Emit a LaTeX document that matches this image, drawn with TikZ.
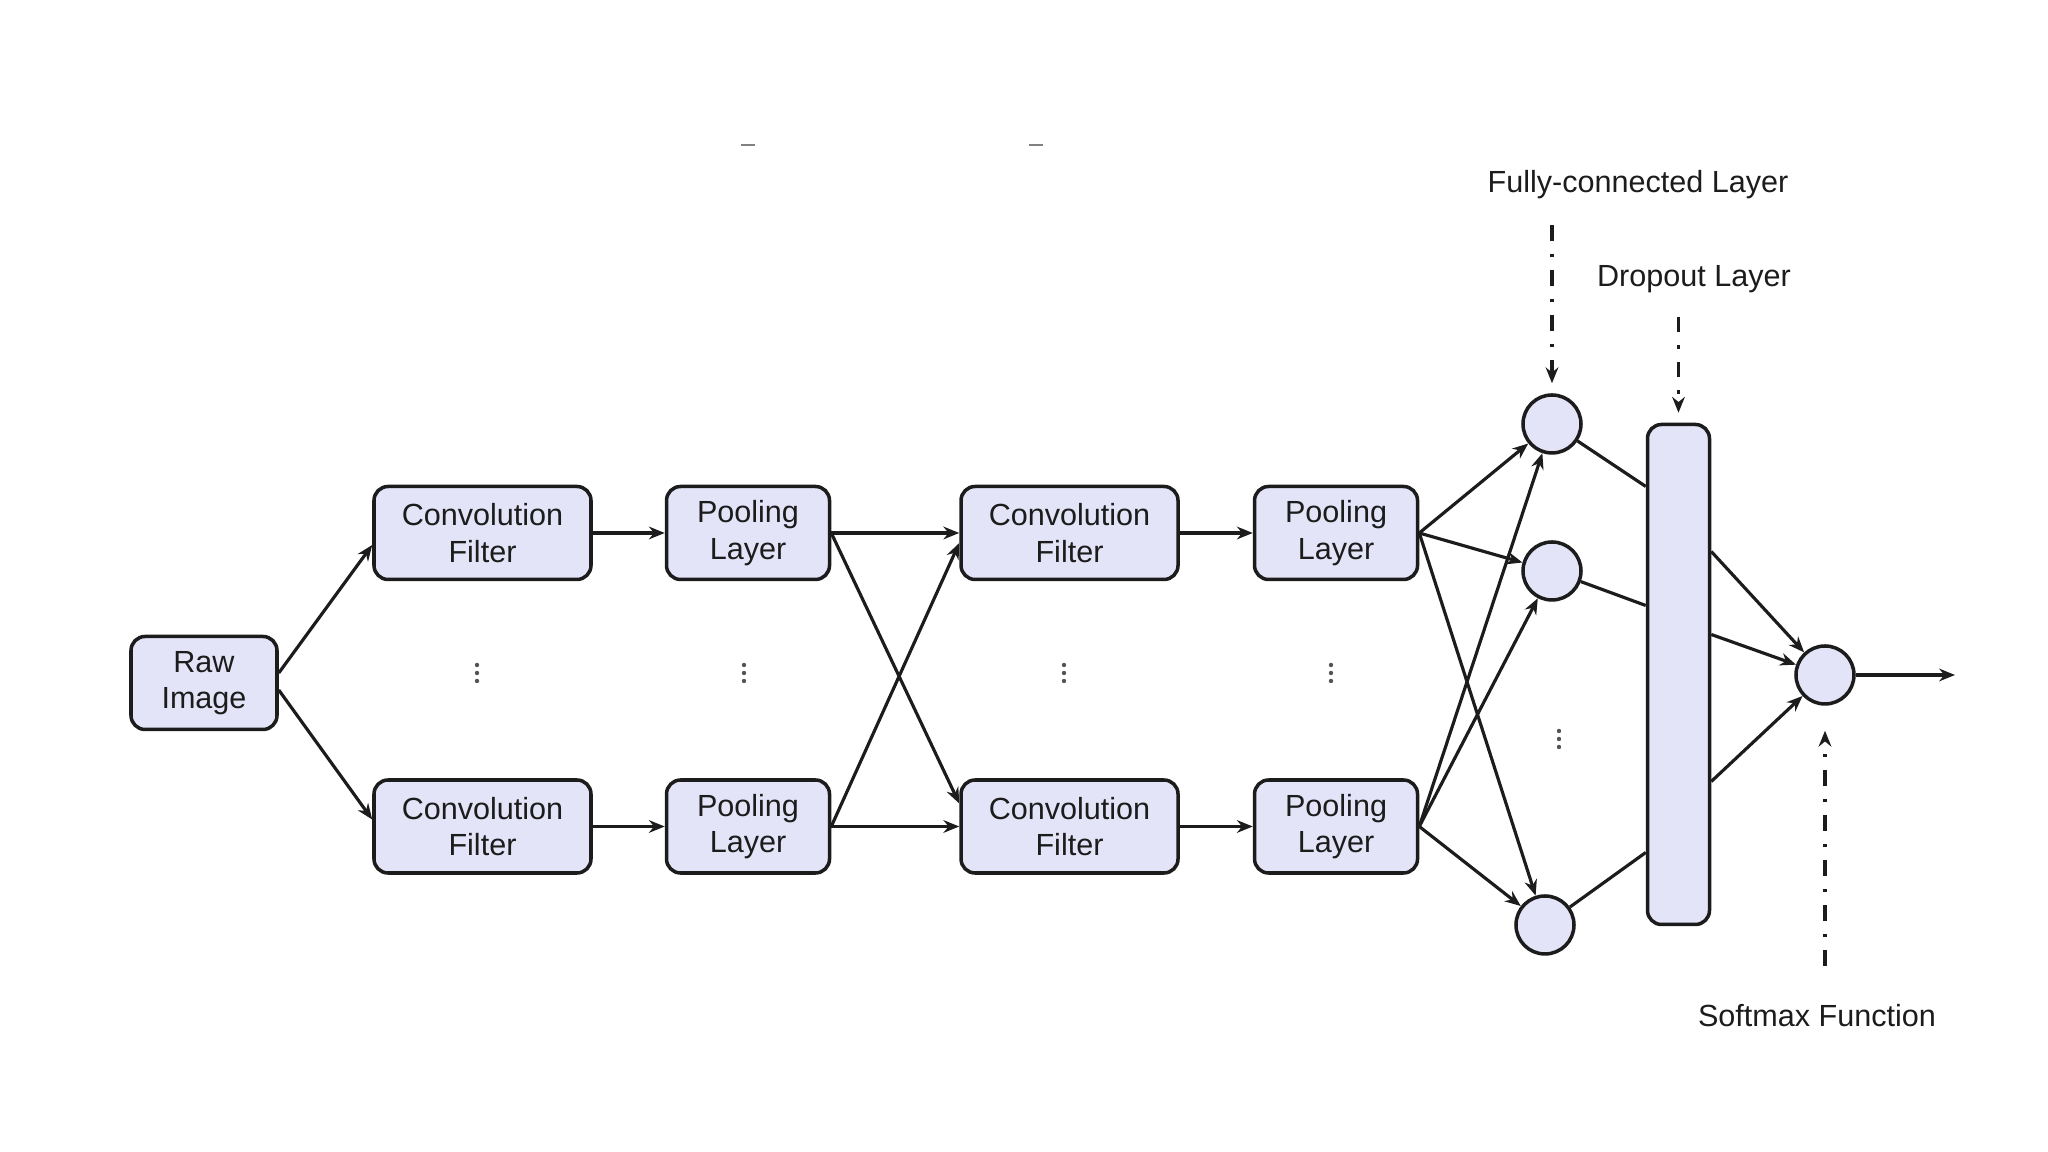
\documentclass[tikz,border=0pt]{standalone}
\usepackage{fontspec}
\setmainfont{Liberation Sans}
\usepackage{xcolor}
\definecolor{layerfill}{HTML}{E4E4F8}
\definecolor{ink}{HTML}{1C1C1C}
\usetikzlibrary{positioning, arrows.meta}

\tikzset{
    vdotsmark/.pic={
        \foreach \k in {-1,0,1}
            \fill[ink!75] (0,\k*0.08) circle (0.022);
    }
}

\begin{document}
\begin{tikzpicture}[
    font=\fontsize{8.7}{10.4}\selectfont,
    >={Stealth[length=4.5pt, width=3.6pt]},
    layer/.style={draw=ink, line width=1pt, fill=layerfill, rounded corners=4pt, minimum height=0.93cm, align=center, inner sep=0pt, text=ink},
    convbox/.style={layer, minimum width=2.17cm},
    poolbox/.style={layer, minimum width=1.63cm},
    rawbox/.style={layer, minimum width=1.46cm},
    neuron/.style={circle, draw=ink, line width=1pt, fill=layerfill, minimum size=0.58cm, inner sep=0pt},
    arrow/.style={->, draw=ink, line width=0.9pt},
    link/.style={draw=ink, line width=0.9pt},
    pointer/.style={->, draw=ink, line width=0.9pt, dash pattern=on 4.3pt off 3.8pt on 0.9pt off 3.8pt},
    tag/.style={text=ink, inner sep=1pt}
]
    \useasboundingbox (0,0) rectangle (20.48,11.52);

    % Feature extraction
    \node[rawbox] (raw) at (2.04,4.69) {Raw\\Image};
    \node[convbox] (c1a) at (4.825,6.19) {Convolution\\Filter};
    \node[poolbox, right=0.72cm of c1a] (p2a) {Pooling\\Layer};
    \node[convbox, right=1.28cm of p2a] (c3a) {Convolution\\Filter};
    \node[poolbox, right=0.73cm of c3a] (p4a) {Pooling\\Layer};

    \node[convbox, below=1.97cm of c1a] (c1b) {Convolution\\Filter};
    \node[poolbox, below=1.97cm of p2a] (p2b) {Pooling\\Layer};
    \node[convbox, below=1.97cm of c3a] (c3b) {Convolution\\Filter};
    \node[poolbox, below=1.97cm of p4a] (p4b) {Pooling\\Layer};

    \pic at (4.77,4.79) {vdotsmark};
    \pic at (7.44,4.79) {vdotsmark};
    \pic at (10.64,4.79) {vdotsmark};
    \pic at (13.31,4.79) {vdotsmark};

    % Classifier
    \node[neuron] (fc1) at (15.52,7.28) {};
    \node[neuron] (fc2) at (15.52,5.81) {};
    \node[neuron] (fc3) at (15.45,2.27) {};
    \pic at (15.59,4.13) {vdotsmark};
    \node[draw=ink, line width=1pt, fill=layerfill, rounded corners=4pt, minimum width=0.62cm, minimum height=5.0cm] (drop) at (16.785,4.775) {};
    \node[neuron] (sm) at (18.25,4.77) {};
    \coordinate (out) at (19.55,4.77);

    \draw[arrow] ([yshift=0.1cm]raw.east) -- ([yshift=-0.12cm]c1a.west);
    \draw[arrow] ([yshift=-0.07cm]raw.east) -- ([yshift=0.07cm]c1b.west);
    \draw[arrow] (c1a) -- (p2a);
    \draw[arrow] (c1b) -- (p2b);
    \draw[arrow] (p2a) -- (c3a);
    \draw[arrow] (p2b) -- (c3b);
    \draw[arrow] (p2a.east) -- ([yshift=0.23cm]c3b.west);
    \draw[arrow] (p2b.east) -- ([yshift=-0.1cm]c3a.west);
    \draw[arrow] (c3a) -- (p4a);
    \draw[arrow] (c3b) -- (p4b);

    \draw[arrow] (p4a.east) -- (fc1);
    \draw[arrow] (p4a.east) -- (fc2);
    \draw[arrow] (p4a.east) -- (fc3);
    \draw[arrow] (p4b.east) -- (fc1);
    \draw[arrow] (p4b.east) -- (fc2);
    \draw[arrow] (p4b.east) -- (fc3);

    \draw[link] (fc1) -- ([yshift=1.88cm]drop.west);
    \draw[link] (fc2) -- ([yshift=0.69cm]drop.west);
    \draw[link] (fc3) -- ([yshift=-1.78cm]drop.west);

    \draw[arrow] ([yshift=1.23cm]drop.east) -- (sm);
    \draw[arrow] ([yshift=0.4cm]drop.east) -- (sm);
    \draw[arrow] ([yshift=-1.07cm]drop.east) -- (sm);
    \draw[arrow] (sm) -- (out);

    % Labels
    \node[tag] (fclabel) at (16.38,9.67) {Fully-connected Layer};
    \node[tag] (droplabel) at (16.94,8.73) {Dropout Layer};
    \node[tag] (smlabel) at (18.17,1.36) {Softmax Function};

    \draw[pointer, shorten <=0.22cm, shorten >=0.1cm] (fclabel.south -| fc1) -- (fc1);
    \draw[pointer, shorten <=0.2cm, shorten >=0.1cm] (droplabel.south -| drop) -- (drop);
    \draw[pointer, shorten <=0.35cm, shorten >=0.25cm] (smlabel.north -| sm) -- (sm);

    % stray marks at the top
    \draw[gray, line width=0.7pt] (7.41,10.07) -- (7.55,10.07);
    \draw[gray, line width=0.7pt] (10.29,10.07) -- (10.43,10.07);
\end{tikzpicture}
\end{document}
